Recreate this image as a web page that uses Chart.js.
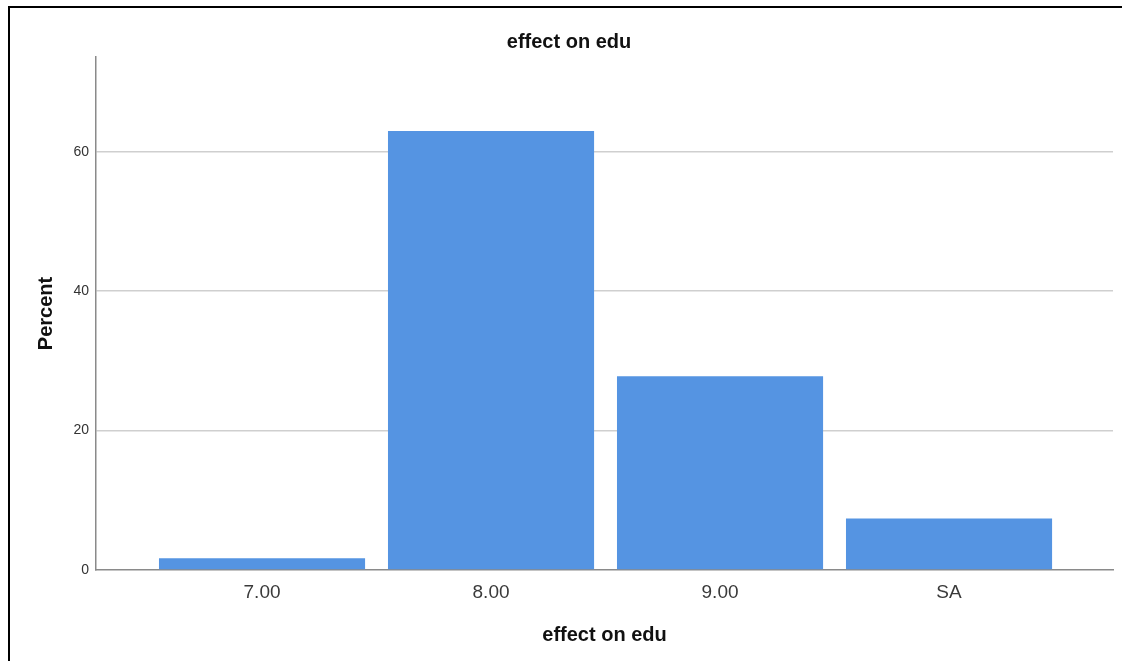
<!DOCTYPE html>
<html>
<head>
<meta charset="utf-8">
<script src="https://cdn.jsdelivr.net/npm/chart.js@4"></script>
<style>
  html, body { margin: 0; padding: 0; background: #fff; overflow: hidden; }
  #wrap { position: absolute; left: 0; top: 0; width: 1122px; height: 661px; }
  #frame { position: absolute; left: 8px; top: 6px; width: 1200px; height: 800px;
           border-left: 2px solid #000; border-top: 2px solid #000; pointer-events: none; }
</style>
</head>
<body>
<div id="wrap"><canvas id="c"></canvas></div>
<div id="frame"></div>
<script>
// data
const categories = ['7.00', '8.00', '9.00', 'SA'];
const percents = [1.7, 63.0, 27.8, 7.4];
const yTicks = [0, 20, 40, 60];

const FONT = "'Liberation Sans', Arial, sans-serif";
const BLUE = '#5594e2';

new Chart(document.getElementById('c'), {
    type: 'bar',
    data: {
        datasets: [{
            data: percents.map((v, i) => ({ x: i, y: v })),
            backgroundColor: BLUE,
            borderWidth: 0,
            barPercentage: 0.9,
            categoryPercentage: 1.0,
        }],
    },
    options: {
        responsive: true,
        maintainAspectRatio: false,
        animation: false,
        layout: { padding: { left: 25, right: 9, top: 0, bottom: 0 } },
        plugins: {
            legend: { display: false },
            tooltip: { enabled: false },
            title: {
                display: true,
                text: 'effect on edu',
                color: '#111',
                font: { family: FONT, size: 20, weight: 'bold' },
                padding: { top: 30, bottom: 3 },
            },
        },
        scales: {
            x: {
                type: 'linear',
                offset: false,
                min: -0.725,
                max: 3.716,
                afterBuildTicks: s => { s.ticks = categories.map((_, i) => ({ value: i })); },
                afterFit: s => { s.height = 91; },
                grid: { display: false, drawTicks: false },
                border: { display: true, color: '#8a8a8a', width: 1.5 },
                ticks: {
                    callback: v => categories[v],
                    color: '#3a3a3a',
                    padding: 11,
                    font: { family: FONT, size: 19 },
                },
                title: {
                    display: true,
                    text: 'effect on edu',
                    color: '#111',
                    font: { family: FONT, size: 20, weight: 'bold' },
                    padding: { top: 0, bottom: 14 },
                },
            },
            y: {
                min: 0,
                max: 73.6,
                afterBuildTicks: s => { s.ticks = yTicks.map(v => ({ value: v })); },
                afterFit: s => { s.width = 71; },
                grid: {
                    drawTicks: false,
                    color: c => (c.tick && c.tick.value === 0) ? 'rgba(0,0,0,0)' : '#cfcfcf',
                    lineWidth: 1.5,
                },
                border: { display: true, color: '#8a8a8a', width: 1.5 },
                ticks: {
                    color: '#333',
                    padding: 7,
                    font: { family: FONT, size: 14 },
                },
                title: {
                    display: true,
                    text: 'Percent',
                    color: '#111',
                    font: { family: FONT, size: 20, weight: 'bold' },
                    padding: { top: 9, bottom: 0 },
                },
            },
        },
    },
});
</script>
</body>
</html>
